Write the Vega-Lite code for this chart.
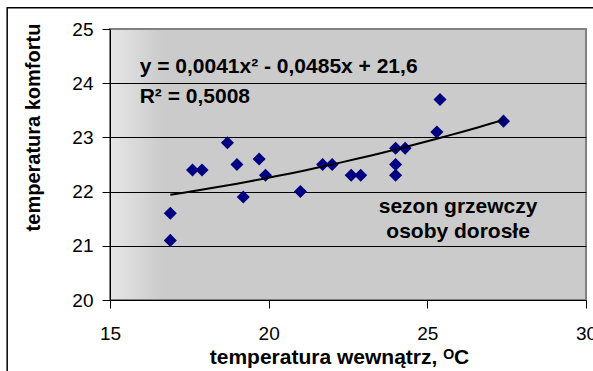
{
  "$schema": "https://vega.github.io/schema/vega-lite/v6.json",
  "width": 476,
  "height": 271,
  "autosize": {"type": "none"},
  "padding": {"left": 110, "top": 29, "right": 7, "bottom": 71},
  "background": "white",
  "config": {
    "font": "Liberation Sans",
    "view": {
      "fill": {"gradient": "linear", "x1": 0, "x2": 1, "y1": 0, "y2": 0,
        "stops": [{"offset": 0, "color": "#e6e6e6"}, {"offset": 0.11, "color": "#cbcbcb"}, {"offset": 1, "color": "#cbcbcb"}]},
      "stroke": "#808080",
      "strokeWidth": 2
    },
    "axis": {
      "domainColor": "black",
      "domainWidth": 1,
      "tickColor": "black",
      "tickSize": 8,
      "labelFontSize": 19,
      "labelColor": "black",
      "labelFlush": false,
      "labelOverlap": false,
      "titleFontWeight": "bold",
      "titleColor": "black"
    }
  },
  "datasets": {
    "pts": [
      {"x": 16.9, "y": 21.6}, {"x": 16.9, "y": 21.1}, {"x": 17.6, "y": 22.4},
      {"x": 17.9, "y": 22.4}, {"x": 18.7, "y": 22.9}, {"x": 19.0, "y": 22.5},
      {"x": 19.2, "y": 21.9}, {"x": 19.7, "y": 22.6}, {"x": 19.9, "y": 22.3},
      {"x": 21.0, "y": 22.0}, {"x": 21.7, "y": 22.5}, {"x": 22.0, "y": 22.5},
      {"x": 22.6, "y": 22.3}, {"x": 22.9, "y": 22.3}, {"x": 24.0, "y": 22.8},
      {"x": 24.0, "y": 22.5}, {"x": 24.0, "y": 22.3}, {"x": 24.3, "y": 22.8},
      {"x": 25.3, "y": 23.1}, {"x": 25.4, "y": 23.7}, {"x": 27.4, "y": 23.3}
    ]
  },
  "encoding": {
    "x": {"field": "x", "type": "quantitative",
      "scale": {"domain": [15, 30], "nice": false, "zero": false},
      "axis": {"values": [15, 20, 25, 30], "grid": false, "labelPadding": 16,
        "title": "temperatura wewnątrz, ᴼC", "titleFontSize": 21,
        "titleX": 229, "titleY": 63, "titleAlign": "center", "titleBaseline": "alphabetic"}},
    "y": {"field": "y", "type": "quantitative",
      "scale": {"domain": [20, 25], "nice": false, "zero": false},
      "axis": {"values": [20, 21, 22, 23, 24, 25], "grid": true, "labelPadding": 9,
        "gridColor": {"condition": {"test": "datum.value == 25", "value": "#808080"}, "value": "black"},
        "gridWidth": 1,
        "title": "temperatura komfortu", "titleFontSize": 20,
        "titleX": -77, "titleY": 98, "titleBaseline": "middle", "titleAlign": "center", "titleAngle": -90}}
  },
  "layer": [
    {
      "data": {"name": "pts"},
      "mark": {"type": "point", "shape": "diamond", "filled": true, "color": "#000080", "size": 170, "opacity": 1}
    },
    {
      "data": {"name": "pts"},
      "transform": [{"regression": "y", "on": "x", "method": "poly", "order": 2, "extent": [16.9, 27.4]}],
      "mark": {"type": "line", "color": "black", "strokeWidth": 2}
    },
    {
      "data": {"values": [
        {"x": 15.935, "y": 24.19, "label": "y = 0,0041x² - 0,0485x + 21,6"},
        {"x": 15.935, "y": 23.635, "label": "R² = 0,5008"}
      ]},
      "mark": {"type": "text", "align": "left", "baseline": "alphabetic", "fontSize": 21, "fontWeight": "bold", "color": "black"},
      "encoding": {"text": {"field": "label"}}
    },
    {
      "data": {"values": [
        {"x": 25.97, "y": 21.614, "label": "sezon grzewczy"},
        {"x": 25.97, "y": 21.138, "label": "osoby dorosłe"}
      ]},
      "mark": {"type": "text", "align": "center", "baseline": "alphabetic", "fontSize": 21, "fontWeight": "bold", "color": "black"},
      "encoding": {"text": {"field": "label"}}
    },
    {
      "data": {"values": [{"x": 11.76, "x2": 30.6, "y": 25.39, "y2": 18.4}]},
      "mark": {"type": "rect", "fill": null, "stroke": "black", "strokeWidth": 1.5, "clip": false},
      "encoding": {"x2": {"field": "x2"}, "y2": {"field": "y2"}}
    }
  ]
}
